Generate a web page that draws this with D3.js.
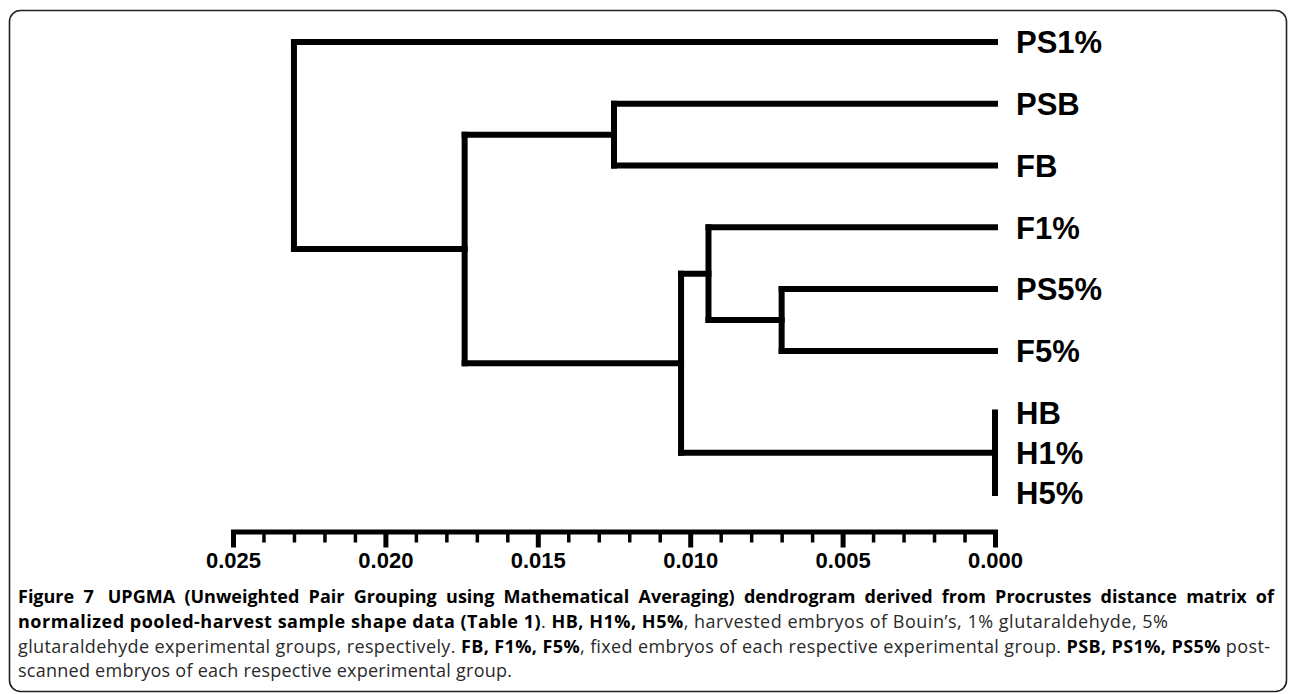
<!DOCTYPE html>
<html>
<head>
<meta charset="utf-8">
<script src="https://cdn.jsdelivr.net/npm/d3@7"></script>
<style>
  body { margin: 0; background: #fff; }
  svg { display: block; }
</style>
</head>
<body>
<div id="chart"></div>
<script>
const width = 1290;
const height = 694;

// leaf order, top to bottom
const leafNames = ['PS1%', 'PSB', 'FB', 'F1%', 'PS5%', 'F5%', 'HB', 'H1%', 'H5%'];

// internal clusters: name, children, joining distance
const clusterNames = ['root', 'A', 'B', 'C', 'D', 'E', 'H'];
const clusterChildren = [
    ['PS1%', 'A'],
    ['B', 'C'],
    ['PSB', 'FB'],
    ['D', 'H'],
    ['F1%', 'E'],
    ['PS5%', 'F5%'],
    ['HB', 'H1%', 'H5%']
];
const clusterHeights = [0.0230, 0.0174, 0.0125, 0.0103, 0.0094, 0.0070, 0.0];

// distance axis
const axisDomain = [0.025, 0.0];
const majorTicks = [0.025, 0.020, 0.015, 0.010, 0.005, 0.000];
const minorTicks = [0.024, 0.023, 0.022, 0.021, 0.019, 0.018, 0.017, 0.016, 0.014, 0.013,
    0.012, 0.011, 0.009, 0.008, 0.007, 0.006, 0.004, 0.003, 0.002, 0.001];

var childMap = new Map();
var heightMap = new Map();
clusterNames.forEach((n, i) => {
    childMap.set(n, clusterChildren[i]);
    heightMap.set(n, clusterHeights[i]);
});
leafNames.forEach(n => heightMap.set(n, 0));

var svg = d3.select('#chart')
    .append('svg')
    .attr('width', width)
    .attr('height', height);

// rounded frame around figure + caption
svg.append('rect')
    .attr('x', 9.5)
    .attr('y', 10.5)
    .attr('width', 1277)
    .attr('height', 681)
    .attr('rx', 11)
    .attr('fill', 'none')
    .attr('stroke', '#222')
    .attr('stroke-width', 1.6);

var x = d3.scaleLinear()
    .domain(axisDomain)
    .range([233, 995]);

var root = d3.hierarchy('root', n => childMap.get(n));

// tighter spacing for the zero-distance H group
var cluster = d3.cluster()
    .nodeSize([1, 1])
    .separation((a, b) => (a.parent === b.parent && heightMap.get(a.parent.data) === 0) ? 0.65 : 1);
cluster(root);

var leaves = root.leaves();
var y = d3.scaleLinear()
    .domain([leaves[0].x, leaves[leaves.length - 1].x])
    .range([42, 493]);

var tree = svg.append('g')
    .attr('fill', 'none')
    .attr('stroke', '#000')
    .attr('stroke-width', 6)
    .attr('stroke-linecap', 'square');

// horizontal branches
tree.selectAll('path.h')
    .data(root.descendants().filter(d => d.parent))
    .enter()
    .append('path')
    .attr('class', 'h')
    .attr('d', d => `M${x(heightMap.get(d.parent.data))},${y(d.x)}H${x(heightMap.get(d.data))}`);

// vertical joins
tree.selectAll('path.v')
    .data(root.descendants().filter(d => d.children))
    .enter()
    .append('path')
    .attr('class', 'v')
    .attr('d', d => {
        let ys = d.children.map(c => y(c.x));
        return `M${x(heightMap.get(d.data))},${d3.min(ys)}V${d3.max(ys)}`;
    });

svg.selectAll('text.leaf')
    .data(leaves)
    .enter()
    .append('text')
    .attr('class', 'leaf')
    .attr('x', 1016)
    .attr('y', d => y(d.x))
    .attr('dy', '0.36em')
    .attr('font-family', '"Liberation Sans", Arial, sans-serif')
    .attr('font-weight', 'bold')
    .attr('font-size', 31)
    .text(d => d.data);

// axis
var axisY = 531.5;

var minorAxis = svg.append('g')
    .attr('transform', `translate(0,${axisY})`)
    .call(d3.axisBottom(x).tickValues(minorTicks).tickSize(11).tickSizeOuter(0).tickFormat(''));
minorAxis.select('.domain').remove();
minorAxis.selectAll('line').attr('stroke', '#000').attr('stroke-width', 3.5);

var majorAxis = svg.append('g')
    .attr('transform', `translate(0,${axisY})`)
    .call(d3.axisBottom(x).tickValues(majorTicks).tickSize(16).tickSizeOuter(0)
        .tickPadding(4.5).tickFormat(d3.format('.3f')));
majorAxis.select('.domain')
    .attr('stroke', '#000')
    .attr('stroke-width', 5)
    .attr('stroke-linecap', 'square');
majorAxis.selectAll('line').attr('stroke', '#000').attr('stroke-width', 5);
majorAxis.selectAll('text')
    .attr('fill', '#000')
    .attr('font-family', '"Liberation Sans", Arial, sans-serif')
    .attr('font-weight', 'bold')
    .attr('font-size', 22);

// figure caption
const captionLines = [
    [['b', 'Figure 7'], ['b', 'UPGMA (Unweighted Pair Grouping using Mathematical Averaging) dendrogram derived from Procrustes distance matrix of']],
    [['b', 'normalized pooled-harvest sample shape data (Table 1)'], ['r', '. '], ['b', 'HB, H1%, H5%'],
     ['r', ', harvested embryos of Bouin\u2019s, 1% glutaraldehyde, 5%']],
    [['r', 'glutaraldehyde experimental groups, respectively. '], ['b', 'FB, F1%, F5%'],
     ['r', ', fixed embryos of each respective experimental group. '], ['b', 'PSB, PS1%, PS5%'], ['r', ' post-']],
    [['r', 'scanned embryos of each respective experimental group.']]
];
const captionBaselines = [603, 628, 653, 677];
const captionWidths = [1257, 1150, 1252, 494];

var caption = svg.append('g')
    .attr('font-family', '"Open Sans", "Noto Sans", sans-serif')
    .attr('font-size', 18);

captionLines.forEach((line, i) => {
    let t = caption.append('text')
        .attr('x', 18)
        .attr('y', captionBaselines[i]);
    line.forEach((seg, j) => {
        let ts = t.append('tspan')
            .attr('font-weight', seg[0] === 'b' ? 'bold' : 'normal')
            .attr('fill', seg[0] === 'b' ? '#000' : '#2a2a2a')
            .text(seg[1]);
        // wide gap after the figure number
        if (i === 0 && j === 1) ts.attr('dx', 14);
    });
    if (i === 0) {
        // justify first line by widening word gaps
        let spaces = line.map(s => s[1]).join('').split(' ').length - 1;
        let ws = 0;
        for (let k = 0; k < 3; k++) {
            let bb = t.node().getBBox();
            ws += (18 + captionWidths[i] - (bb.x + bb.width)) / spaces;
            t.attr('word-spacing', ws);
        }
    } else {
        t.attr('textLength', captionWidths[i]).attr('lengthAdjust', 'spacing');
    }
});
</script>
</body>
</html>
